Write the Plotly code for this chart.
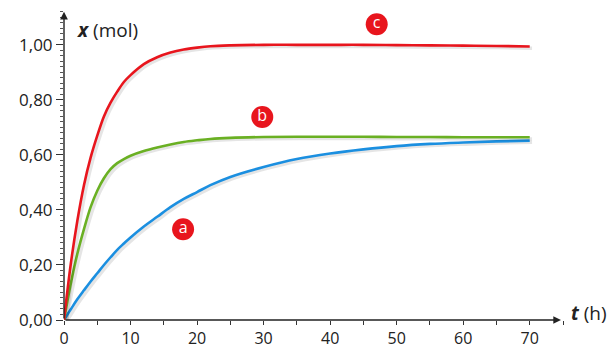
import plotly.graph_objects as go

# time points (h)
t_vals = [0, 1, 2, 3, 4, 5, 6, 7, 8, 9, 10, 12, 14, 16, 18, 20, 22, 25, 30, 35, 40, 45, 50, 55, 60, 65, 70]
# curve c (red)
c_vals = [0, 0.20, 0.36, 0.49, 0.59, 0.67, 0.74, 0.79, 0.83, 0.865, 0.89, 0.93, 0.955, 0.972, 0.983, 0.99, 0.995, 0.998, 1.0, 1.0, 1.0, 1.0, 0.999, 0.998, 0.997, 0.996, 0.994]
# curve b (green)
b_vals = [0, 0.13, 0.24, 0.33, 0.41, 0.47, 0.515, 0.548, 0.57, 0.585, 0.597, 0.614, 0.627, 0.638, 0.647, 0.653, 0.658, 0.662, 0.665, 0.666, 0.666, 0.666, 0.665, 0.665, 0.664, 0.664, 0.664]
# curve a (blue)
a_vals = [0, 0.038, 0.075, 0.108, 0.14, 0.17, 0.20, 0.228, 0.255, 0.278, 0.30, 0.34, 0.375, 0.41, 0.44, 0.465, 0.49, 0.52, 0.556, 0.585, 0.605, 0.62, 0.632, 0.64, 0.645, 0.649, 0.652]

label_names = ["a", "b", "c"]
label_t = [17.9, 29.8, 47.0]
label_x = [0.33, 0.738, 1.075]

x_ticks = [0, 10, 20, 30, 40, 50, 60, 70]
y_ticks = [0.0, 0.2, 0.4, 0.6, 0.8, 1.0]

fig = go.Figure()
for vals, col in [(a_vals, "#1b8fe0"), (b_vals, "#6ab023"), (c_vals, "#e8151d")]:
    fig.add_trace(go.Scatter(x=[v + 0.35 for v in t_vals], y=[v - 0.006 for v in vals], mode="lines",
                             line=dict(color="rgba(0,0,0,0.10)", width=3.5, shape="spline"),
                             hoverinfo="skip", showlegend=False))
    fig.add_trace(go.Scatter(x=t_vals, y=vals, mode="lines",
                             line=dict(color=col, width=2.6, shape="spline"), showlegend=False))

fig.add_trace(go.Scatter(x=label_t, y=label_x, mode="markers+text", text=label_names,
                         textposition="middle center",
                         marker=dict(size=22, color="#e8151d"),
                         textfont=dict(color="white", size=16, family="Open Sans"),
                         showlegend=False))

# axis arrows
fig.add_annotation(x=74.7, y=0, ax=0, ay=0, xref="x", yref="y", axref="x", ayref="y",
                   showarrow=True, arrowhead=2, arrowsize=1.1, arrowwidth=1.4, arrowcolor="#222", text="")
fig.add_annotation(x=0, y=1.12, ax=0, ay=0, xref="x", yref="y", axref="x", ayref="y",
                   showarrow=True, arrowhead=2, arrowsize=1.1, arrowwidth=1.4, arrowcolor="#222", text="")

fig.add_annotation(x=1.012, y=0.025, xref="paper", yref="y", text="<b><i>t</i></b> (h)", showarrow=False,
                   xanchor="left", yanchor="middle", font=dict(size=19, color="#222", family="Open Sans"))
fig.add_annotation(x=1.6, y=1.055, xref="x", yref="y", text="<b><i>x</i></b> (mol)", showarrow=False,
                   xanchor="left", yanchor="middle", font=dict(size=19, color="#222", family="Open Sans"))

fig.update_layout(
    width=610, height=349,
    margin=dict(l=64, r=47, t=11, b=29),
    paper_bgcolor="white", plot_bgcolor="white",
    separators=", ",
    font=dict(family="Open Sans", size=17, color="#222"),
)
fig.update_xaxes(range=[0, 75], tickvals=x_ticks, showgrid=False, zeroline=False, showline=False,
                 automargin=False,
                 ticks="outside", ticklen=4, tickcolor="#333", tickwidth=1.2, ticklabelstandoff=0,
                 minor=dict(dtick=5, tick0=0, ticks="outside", ticklen=4, tickcolor="#333", showgrid=False),
                 tickfont=dict(size=16, color="#222"))
fig.update_yaxes(range=[0, 1.123], tickvals=y_ticks, tickformat=".2f", showgrid=False, zeroline=False, showline=False,
                 automargin=False,
                 ticks="outside", ticklen=7, tickcolor="#333", tickwidth=1.2,
                 minor=dict(dtick=0.02, tick0=0, ticks="outside", ticklen=3, tickcolor="#555", showgrid=False),
                 tickfont=dict(size=17, color="#222"))

fig.write_html("out.html", config={"displayModeBar": False},
               post_script="document.body.style.margin='0';")
